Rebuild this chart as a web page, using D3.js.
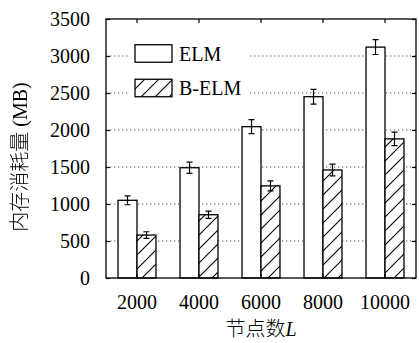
<!DOCTYPE html>
<html>
<head>
<meta charset="utf-8">
<script src="https://cdn.jsdelivr.net/npm/d3@7"></script>
<style>
  html, body { margin: 0; padding: 0; background: #fff; }
  svg { display: block; }
  .num { font-family: "Liberation Serif", "DejaVu Serif", serif; font-size: 20px; fill: #000; }
  .cjk { font-family: "Noto Sans CJK SC", sans-serif; font-size: 20px; font-weight: 300; fill: #000; }
</style>
</head>
<body>
<svg id="chart" width="419" height="343"></svg>
<script>
// Memory consumption (MB) versus number of hidden nodes L
const categories = ["2000", "4000", "6000", "8000", "10000"];
const seriesNames = ["ELM", "B-ELM"];
const elmValues = [1050, 1490, 2045, 2450, 3120];
const elmErrors = [60, 75, 95, 100, 100];
const belmValues = [580, 855, 1245, 1460, 1880];
const belmErrors = [45, 50, 68, 80, 90];
const yTicks = [0, 500, 1000, 1500, 2000, 2500, 3000, 3500];
const yTitle = "内存消耗量";
const yTitleUnit = "(MB)";
const xTitle = "节点数";
const xTitleVar = "L";

const svg = d3.select("#chart");
const plotL = 106, plotR = 416, plotT = 19, plotB = 278;
const serif = "'Liberation Serif', 'DejaVu Serif', serif";

const x = d3.scaleBand().domain(categories).range([plotL, plotR]);
const y = d3.scaleLinear().domain([0, 3500]).range([plotB, plotT]);
const barW = x.bandwidth() * 0.306;

const defs = svg.append("defs");
// grayscale filter so the rotated title renders without colour fringes
defs.append("filter").attr("id", "mono")
  .append("feColorMatrix").attr("type", "saturate").attr("values", 0);

// hatch pattern for the second series
const pat = defs.append("pattern")
  .attr("id", "hatch")
  .attr("patternUnits", "userSpaceOnUse")
  .attr("width", 14).attr("height", 14);
pat.append("rect").attr("width", 14).attr("height", 14).attr("fill", "#fff");
pat.append("path")
  .attr("d", "M0,14 L14,0 M-3.5,3.5 L3.5,-3.5 M10.5,17.5 L17.5,10.5")
  .attr("stroke", "#000").attr("stroke-width", 1.1).attr("fill", "none");

// dotted grid lines
svg.append("g").selectAll("line")
  .data(yTicks.filter(t => t > 0 && t < 3500))
  .join("line")
  .attr("x1", plotL).attr("x2", plotR)
  .attr("y1", d => y(d)).attr("y2", d => y(d))
  .attr("stroke", "#555").attr("stroke-width", 1)
  .attr("stroke-dasharray", "1.3,2.7");

// legend (erases the grid behind it)
const legend = svg.append("g");
legend.append("rect")
  .attr("x", 128).attr("y", 40).attr("width", 120).attr("height", 62)
  .attr("fill", "#fff");
const legendFill = ["#fff", "url(#hatch)"];
const legendY = [53.5, 88];
seriesNames.forEach((name, i) => {
  legend.append("rect")
    .attr("x", 135).attr("y", legendY[i] - 8.75)
    .attr("width", 37).attr("height", 17.5)
    .attr("fill", legendFill[i]).attr("stroke", "#000").attr("stroke-width", 1.3);
  legend.append("text").attr("class", "num")
    .attr("x", 179).attr("y", legendY[i] + 7)
    .text(name);
});

// bars
const series = [
  { values: elmValues, errors: elmErrors, fill: "#fff", offset: -1 },
  { values: belmValues, errors: belmErrors, fill: "url(#hatch)", offset: 0 }
];
series.forEach(s => {
  const rows = categories.map((c, i) => ({ c, v: s.values[i], e: s.errors[i] }));
  const cx = d => x(d.c) + x.bandwidth() / 2 + s.offset * barW;
  svg.append("g").selectAll("rect")
    .data(rows).join("rect")
    .attr("x", cx)
    .attr("y", d => y(d.v))
    .attr("width", barW)
    .attr("height", d => y(0) - y(d.v))
    .attr("fill", s.fill)
    .attr("stroke", "#000").attr("stroke-width", 1.3);
  // error bars
  const eb = svg.append("g").attr("stroke", "#000").attr("stroke-width", 1.2);
  eb.selectAll("path")
    .data(rows).join("path")
    .attr("fill", "none")
    .attr("d", d => {
      const mx = cx(d) + barW / 2;
      const y1 = y(d.v + d.e), y2 = y(d.v - d.e);
      return `M${mx},${y1}V${y2}M${mx - 3},${y1}H${mx + 3}M${mx - 3},${y2}H${mx + 3}`;
    });
});

// axes with inward ticks
const yAxisL = svg.append("g").attr("transform", `translate(${plotL},0)`)
  .call(d3.axisLeft(y).tickValues(yTicks).tickSize(-4).tickPadding(16).tickFormat(d3.format("d")));
const yAxisR = svg.append("g").attr("transform", `translate(${plotR},0)`)
  .call(d3.axisRight(y).tickValues(yTicks).tickSize(-4).tickFormat(""));
const xAxisB = svg.append("g").attr("transform", `translate(0,${plotB})`)
  .call(d3.axisBottom(x).tickSize(-4).tickPadding(17));
const xAxisT = svg.append("g").attr("transform", `translate(0,${plotT})`)
  .call(d3.axisTop(x).tickSize(-4).tickFormat(""));
[yAxisL, yAxisR, xAxisB, xAxisT].forEach(g => {
  g.select(".domain").remove();
  g.attr("font-family", null).attr("font-size", null);
  g.selectAll("line").attr("stroke", "#000").attr("stroke-width", 1.2);
  g.selectAll("text").attr("class", "num").attr("fill", "#000");
});

// plot frame
svg.append("rect")
  .attr("x", plotL).attr("y", plotT)
  .attr("width", plotR - plotL).attr("height", plotB - plotT)
  .attr("fill", "none").attr("stroke", "#000").attr("stroke-width", 1.3);

// axis titles
const yt = svg.append("g").attr("filter", "url(#mono)")
  .append("text").attr("class", "cjk")
  .attr("transform", `translate(27,157) rotate(-90)`)
  .attr("text-anchor", "middle");
yt.append("tspan").text(yTitle);
yt.append("tspan")
  .attr("font-family", serif).attr("font-size", "20px").attr("font-weight", 400)
  .text("\u00a0" + yTitleUnit);

const xt = svg.append("text").attr("class", "cjk")
  .attr("x", (plotL + plotR) / 2).attr("y", 336)
  .attr("text-anchor", "middle");
xt.append("tspan").text(xTitle);
xt.append("tspan")
  .attr("font-family", serif).attr("font-weight", 400)
  .attr("font-style", "italic").attr("font-size", "20px")
  .text(xTitleVar);
</script>
</body>
</html>
